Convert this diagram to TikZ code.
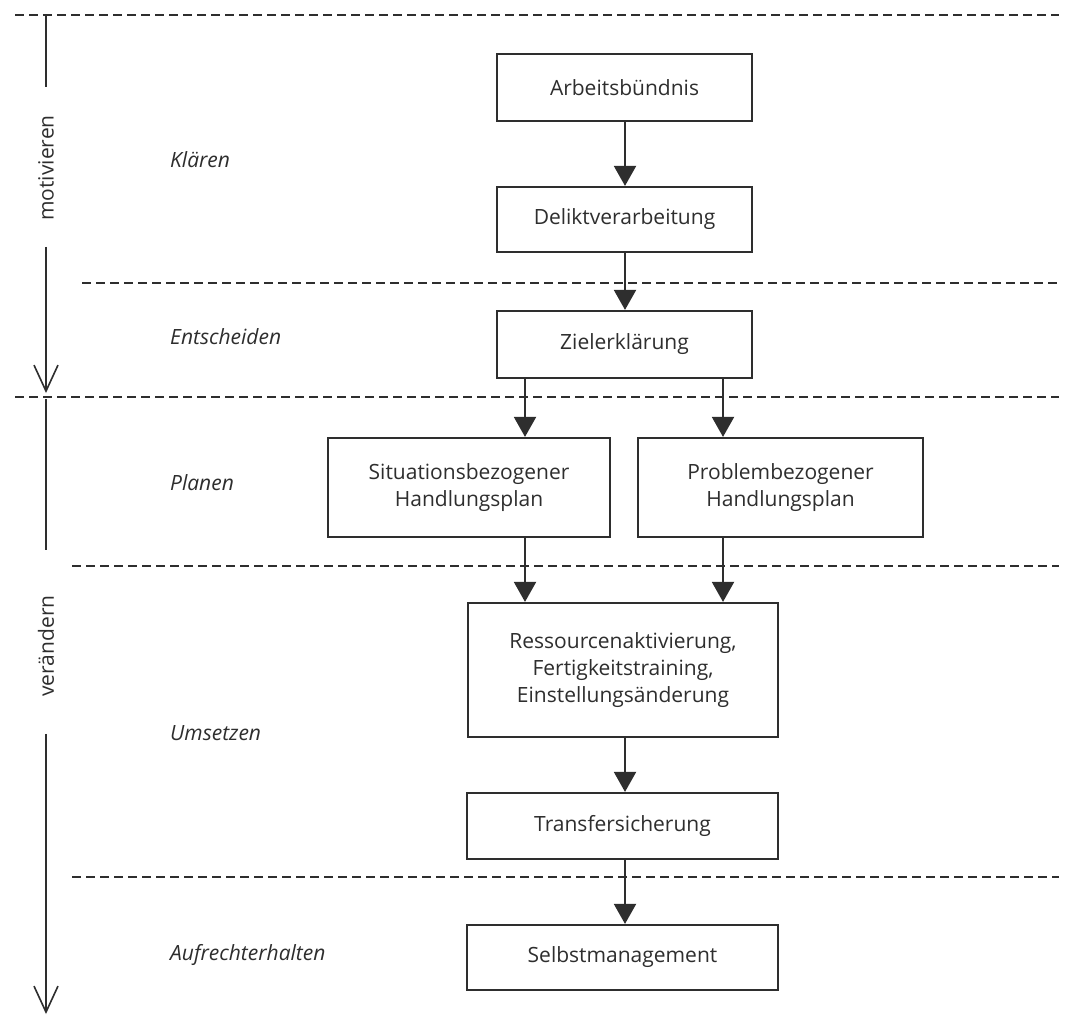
\documentclass[tikz,border=0pt]{standalone}
\usepackage{fontspec}
\setmainfont{Open Sans}
\usetikzlibrary{arrows.meta}
\definecolor{ink}{HTML}{2E2E2E}
\begin{document}
\begin{tikzpicture}[x=1pt,y=-1pt,
  box/.style={draw=ink, line width=2.2pt, text=ink, font=\fontsize{21}{27}\selectfont, align=center, inner sep=0pt},
  arr/.style={draw=ink, line width=2pt, -{Triangle[width=22pt,length=20pt]}},
  sep/.style={draw=ink, line width=1.8pt, dash pattern=on 9pt off 5pt},
  phase/.style={text=ink, font=\fontsize{21}{27}\selectfont\itshape, anchor=west, inner sep=0pt},
  side/.style={text=ink, font=\fontsize{21}{27}\selectfont, rotate=90, inner sep=0pt},
  sideline/.style={draw=ink, line width=1.6pt},
  sidearr/.style={draw=ink, line width=1.6pt, -{Straight Barb[width=24pt,length=26pt]}},
]
\fill[white] (0,0) rectangle (1078,1017);
\useasboundingbox (0,0) rectangle (1078,1017);

% separators
\coordinate (d1a) at (15,15);  \coordinate (d1b) at (1059,15);
\coordinate (d2a) at (82,283); \coordinate (d2b) at (1059,283);
\coordinate (d3a) at (15,397); \coordinate (d3b) at (1059,397);
\coordinate (d4a) at (72,566); \coordinate (d4b) at (1059,566);
\coordinate (d5a) at (72,877); \coordinate (d5b) at (1059,877);
\draw[sep] (d1a) -- (d1b);
\draw[sep] (d2a) -- (d2b);
\draw[sep] (d3a) -- (d3b);
\draw[sep] (d4a) -- (d4b);
\draw[sep] (d5a) -- (d5b);

% boxes
\node[box, minimum width=255pt, minimum height=67pt] (arb) at (624.5,87.5) {Arbeitsbündnis};
\node[box, minimum width=255pt, minimum height=65pt] (del) at (624.5,219.5) {Deliktverarbeitung};
\node[box, minimum width=255pt, minimum height=67pt] (ziel) at (624.5,344.5) {Zielerklärung};
\node[box, minimum width=282pt, minimum height=99pt] (sit) at (469,487.5) {Situationsbezogener\\Handlungsplan};
\node[box, minimum width=285pt, minimum height=99pt] (prob) at (780.5,487.5) {Problembezogener\\Handlungsplan};
\node[box, minimum width=310pt, minimum height=134pt] (res) at (623,670) {Ressourcenaktivierung,\\Fertigkeitstraining,\\Einstellungsänderung};
\node[box, minimum width=311pt, minimum height=66pt] (trans) at (622.5,826) {Transfersicherung};
\node[box, minimum width=311pt, minimum height=65pt] (selbst) at (622.5,957.5) {Selbstmanagement};

% connectors
\coordinate (cm) at (625,0);
\coordinate (cl) at (525,0);
\coordinate (cr) at (723,0);
\draw[arr] (arb.south -| cm) -- (del.north -| cm);
\draw[arr] (del.south -| cm) -- (ziel.north -| cm);
\draw[arr] (ziel.south -| cl) -- (sit.north -| cl);
\draw[arr] (ziel.south -| cr) -- (prob.north -| cr);
\draw[arr] (sit.south -| cl) -- (res.north -| cl);
\draw[arr] (prob.south -| cr) -- (res.north -| cr);
\draw[arr] (res.south -| cm) -- (trans.north -| cm);
\draw[arr] (trans.south -| cm) -- (selbst.north -| cm);

% phase labels
\node[phase] (klaeren) at (170,160) {Klären};
\node[phase] (entsch) at (170,337) {Entscheiden};
\node[phase] (planen) at (170,483) {Planen};
\node[phase] (umsetzen) at (170,733) {Umsetzen};
\node[phase] (aufrecht) at (170,955) {Aufrechterhalten};

% side arrows
\node[side] (mot) at (46,168) {motivieren};
\node[side] (ver) at (46,646) {verändern};
\coordinate (s1) at (46,15);
\coordinate (s2) at (46,393);
\coordinate (s3) at (46,399);
\coordinate (s4) at (46,1014);
\draw[sideline] (s1) -- ([yshift=28pt]mot.east);
\draw[sidearr] ([yshift=-26pt]mot.west) -- (s2);
\draw[sideline] (s3) -- ([yshift=45pt]ver.east);
\draw[sidearr] ([yshift=-37pt]ver.west) -- (s4);
\end{tikzpicture}
\end{document}
